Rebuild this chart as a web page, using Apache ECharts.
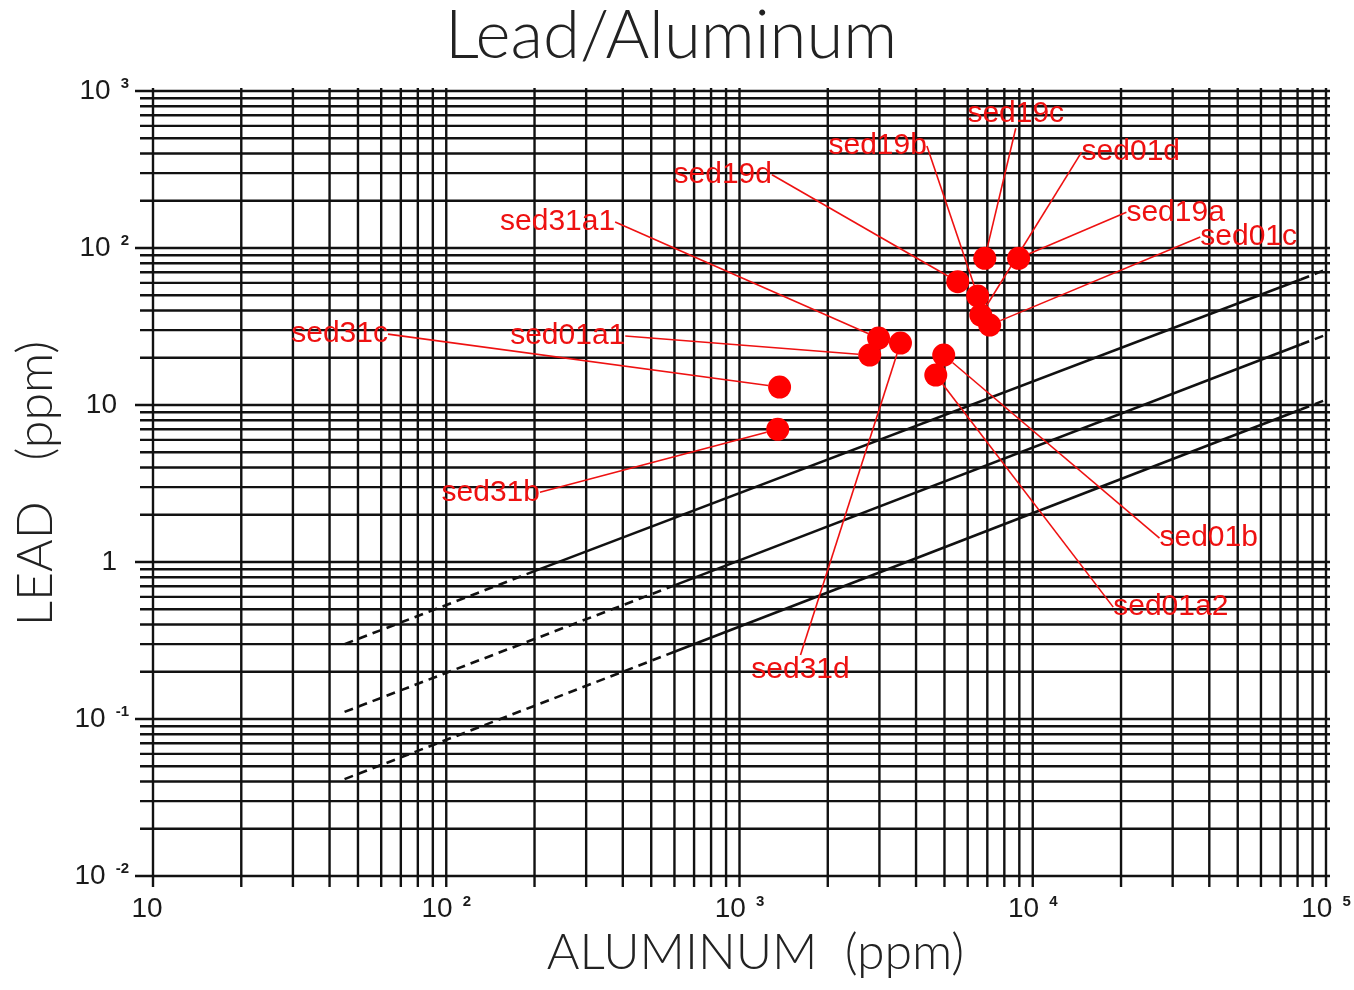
<!DOCTYPE html>
<html><head><meta charset="utf-8">
<script src="https://cdn.jsdelivr.net/npm/echarts@6/dist/echarts.min.js"></script>
<style>html,body{margin:0;padding:0;background:#fff}#c{width:1354px;height:990px}</style>
</head><body><div id="c"></div>
<script>
// ---- data ----
const sampleNames = ['sed19c','sed19a','sed19d','sed19b','sed01d','sed01c','sed31a1','sed31d','sed01a1','sed01b','sed01a2','sed31c','sed31b'];
const aluminumPpm = [6860, 8950, 5550, 6490, 6650, 7130, 2980, 3540, 2780, 4970, 4670, 1370, 1350];
const leadPpm     = [86, 86, 61, 49.5, 37.4, 32.3, 26.7, 24.8, 20.8, 20.8, 15.5, 13.0, 7.0];

// three reference lines: x breakpoints (dashed | solid | dashed) and y values
const upperLineX  = [45, 200, 82000, 100000];
const upperLineY  = [0.30, 0.875, 63, 73];
const middleLineX = [45, 600, 82000, 100000];
const middleLineY = [0.111, 0.71, 24.3, 28];
const lowerLineX  = [45, 600, 82000, 100000];
const lowerLineY  = [0.0414, 0.268, 9.35, 10.8];

// axis ranges and log grid mantissas
const xRange = [10, 100000];
const yRange = [0.01, 1000];
const gridMantissas = [1,2,3,4,5,6,7,8,9];

// ---- layout (label offsets in px, not data) ----
const labelOffsets = {
  sed19c:[31,-145], sed19b:[-100,-150], sed19d:[-235,-107], sed01d:[150,-163],
  sed19a:[157,-46], sed01c:[259,-88], sed31a1:[-321,-116], sed31c:[-440,-53],
  sed01a1:[-302,-19], sed31b:[-287,63], sed31d:[-100,327], sed01b:[265,183], sed01a2:[235,232]
};

function gridValues(range){
  const out = [];
  const e0 = Math.round(Math.log10(range[0])), e1 = Math.round(Math.log10(range[1]));
  for (let e = e0; e < e1; e++) gridMantissas.forEach(m => out.push(m * Math.pow(10, e)));
  out.push(range[1]);
  return out;
}
const xGrid = gridValues(xRange);
const yGrid = gridValues(yRange);

function tickFmt(v){
  const e = Math.round(Math.log10(v));
  if (e === 0) return '{b|1}{p|}';
  if (e === 1) return '{b|10}{p|}';
  return '{b|10}{s|' + (e < 0 ? '-' : '') + Math.abs(e) + '}';
}
const tickRich = {
  b:{fontSize:28, fontFamily:'Liberation Sans', color:'#1a1a1a', lineHeight:30},
  s:{fontSize:15, fontWeight:'bold', fontFamily:'Liberation Sans', color:'#1a1a1a', lineHeight:15, verticalAlign:'top', padding:[0,0,0,10]},
  p:{width:12}
};

function refLineSeries(xs, ys){
  const dashed = [[xs[0],ys[0]],[xs[1],ys[1]],'-',[xs[2],ys[2]],[xs[3],ys[3]]];
  const solid = [[xs[1],ys[1]],[xs[2],ys[2]]];
  return [
    {type:'line', data:dashed, symbol:'none', connectNulls:false, silent:true, z:3,
     lineStyle:{color:'#111', width:2.6, type:[9,6]}},
    {type:'line', data:solid, symbol:'none', silent:true, z:3,
     lineStyle:{color:'#111', width:2.6}}
  ];
}

const chart = echarts.init(document.getElementById('c'));
chart.setOption({
  backgroundColor:'#ffffff',
  animation:false,
  title:{text:'Lead/Aluminum', left:440, top:-2,
    textStyle:{fontFamily:'Lato', fontWeight:300, fontSize:67, color:'#222'}},
  grid:{left:153, right:28, top:91, bottom:114},
  xAxis:{type:'log', logBase:10, min:xRange[0], max:xRange[1], splitNumber:4,
    name:'ALUMINUM  (ppm)', nameLocation:'middle', nameGap:34,
    nameTextStyle:{fontFamily:'Lato', fontWeight:300, fontSize:50, color:'#222', padding:[0,0,0,32]},
    axisLine:{show:false}, axisTick:{show:false}, splitLine:{show:false},
    axisLabel:{formatter:tickFmt, rich:tickRich, margin:18, showMinLabel:true, showMaxLabel:true}},
  yAxis:{type:'log', logBase:10, min:yRange[0], max:yRange[1], splitNumber:5,
    name:'LEAD   (ppm)', nameLocation:'middle', nameGap:92,
    nameTextStyle:{fontFamily:'Lato', fontWeight:300, fontSize:50, color:'#222'},
    axisLine:{show:false}, axisTick:{show:false}, splitLine:{show:false},
    axisLabel:{formatter:tickFmt, rich:tickRich, margin:24, showMinLabel:true, showMaxLabel:true}},
  series:[
    {type:'custom', silent:true, z:1, clip:false,
     data:xGrid.map(v => [v, 1]),
     renderItem:(params, api) => {
       const v = api.value(0);
       const t = api.coord([v, yRange[1]]), b = api.coord([v, yRange[0]]);
       return {type:'line', shape:{x1:t[0], y1:t[1]-3, x2:b[0], y2:b[1]+11},
               style:{stroke:'#111', lineWidth:2.4}};
     }},
    {type:'custom', silent:true, z:1, clip:false,
     data:yGrid.map(v => [100, v]),
     renderItem:(params, api) => {
       const v = api.value(1);
       const l = api.coord([xRange[0], v]), r = api.coord([xRange[1], v]);
       const ext = (Math.abs(Math.log10(v) - Math.round(Math.log10(v))) < 1e-9) ? 18 : 13;
       return {type:'line', shape:{x1:l[0]-ext, y1:l[1], x2:r[0]+4, y2:r[1]},
               style:{stroke:'#111', lineWidth:2.4}};
     }},
    ...refLineSeries(upperLineX, upperLineY),
    ...refLineSeries(middleLineX, middleLineY),
    ...refLineSeries(lowerLineX, lowerLineY),
    {type:'scatter', z:10, symbolSize:23,
     itemStyle:{color:'#ff0000', opacity:1},
     data:sampleNames.map((n,i) => ({name:n, value:[aluminumPpm[i], leadPpm[i]]})),
     label:{show:true, position:'inside', formatter:'{b}', color:'#ee1111',
       fontFamily:'Liberation Sans', fontSize:30},
     labelLine:{show:true, lineStyle:{color:'#ee1111', width:1.6}},
     labelLayout:(params) => {
       const o = labelOffsets[sampleNames[params.dataIndex]];
       return {dx:o[0], dy:o[1]};
     }}
  ]
});
</script></body></html>
